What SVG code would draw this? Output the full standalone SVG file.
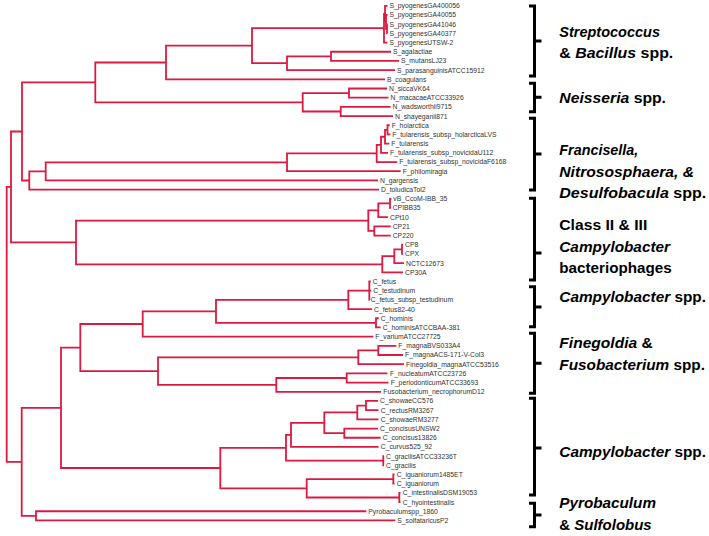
<svg xmlns="http://www.w3.org/2000/svg" width="709" height="536" viewBox="0 0 709 536">
<style>
.br{fill:none;stroke:#dc1a40;stroke-width:1.8;stroke-linejoin:miter}
.lf{font-family:"Liberation Sans",Arial,sans-serif;font-size:6.8px;fill:#333}
.lb{font-family:"Liberation Sans",Arial,sans-serif;font-size:15px;font-weight:bold;fill:#000}
.it{font-style:italic}
.bk{fill:none;stroke:#000;stroke-width:3}
</style>
<rect width="709" height="536" fill="#fff"/>
<g id="connectors">
<path class="br" d="M11 186.9H6.7V461.8H21.7"/>
<path class="br" d="M22 131.5H11V242.4H76"/>
<path class="br" d="M95.3 82.4H22V180.5H29.3"/>
<path class="br" d="M166 62.5H95.3V102.3H302.7"/>
<path class="br" d="M252 45.7H166V79.3H385"/>
<path class="br" d="M384 28.2H252V63.2H287"/>
<path class="br" d="M385 13.85H384V42.56H387.5"/>
<path class="br" d="M387.5 5.8H385V21.89H386"/>
<path class="br" d="M387.5 14.99H386V28.78H387"/>
<path class="br" d="M387.5 24.18H387V33.37H387.5"/>
<path class="br" d="M331 56.35H287V70.13H395"/>
<path class="br" d="M399 60.94H331V51.75H391"/>
<path class="br" d="M349 93.1H302.7V111.49H340.7"/>
<path class="br" d="M387 88.51H349V97.7H388.5"/>
<path class="br" d="M390.5 106.89H340.7V116.08H393"/>
<path class="br" d="M45.7 171.36H29.3V189.6H379"/>
<path class="br" d="M287 162.3H45.7V180.41H378"/>
<path class="br" d="M376.7 153.4H287V171.22H400.7"/>
<path class="br" d="M381 144.8H376.7V162.03H397.3"/>
<path class="br" d="M385 136.76H381V152.84H388"/>
<path class="br" d="M387.5 129.87H385V143.65H389.3"/>
<path class="br" d="M389.7 125.27H387.5V134.46H390.3"/>
<path class="br" d="M368.3 220.6H76V264.3H382.3"/>
<path class="br" d="M378.3 210.3H368.3V230.96H374.3"/>
<path class="br" d="M390 203.4H378.3V217.17H388"/>
<path class="br" d="M391.3 198.79H390V207.98H390.7"/>
<path class="br" d="M390.7 226.36H374.3V235.55H390.7"/>
<path class="br" d="M394.3 256.2H382.3V272.31H403"/>
<path class="br" d="M402 249.3H394.3V263.12H404"/>
<path class="br" d="M403 244.74H402V253.93H403"/>
<path class="br" d="M61 407.8H21.7V515.8H36"/>
<path class="br" d="M366.3 511.25H36V520.44H395.3"/>
<path class="br" d="M80.3 347.55H61V468H220.3"/>
<path class="br" d="M142.7 324H80.3V371.1H158"/>
<path class="br" d="M216 311.37H142.7V336.64H373.3"/>
<path class="br" d="M348.3 299.88H216V322.86H376"/>
<path class="br" d="M369.3 290.69H348.3V309.07H372"/>
<path class="br" d="M370.7 281.5H369.3V299.88H369.8M369.3 290.69H371.3"/>
<path class="br" d="M378.7 318.26H376V327.45H380.7"/>
<path class="br" d="M358.3 357.32H158V384.9H276.3"/>
<path class="br" d="M378.3 350.43H358.3V364.21H404"/>
<path class="br" d="M396.3 345.83H378.3V355.02H403"/>
<path class="br" d="M346.7 378H276.3V391.78H381"/>
<path class="br" d="M387.5 373.4H346.7V382.59H388.5"/>
<path class="br" d="M286 447.8H220.3V488.3H306.7"/>
<path class="br" d="M291 434.86H286V460.7H383.3"/>
<path class="br" d="M324.3 422.8H291V446.92H378.5"/>
<path class="br" d="M357.3 412.46H324.3V433.1H344.3"/>
<path class="br" d="M366 405.57H357.3V419.35H378.5"/>
<path class="br" d="M378 400.97H366V410.16H378.5"/>
<path class="br" d="M378 428.54H344.3V437.73H380.5"/>
<path class="br" d="M384 456.11H383.3V465.3H384"/>
<path class="br" d="M393.3 479.1H306.7V497.5H399.3"/>
<path class="br" d="M394.5 474.49H393.3V483.68H394.5"/>
<path class="br" d="M400.5 492.87H399.3V502.06H400.5"/>
</g>
<g id="leaves">
<g id="n1"><text class="lf" x="389.5" y="8.2">S_pyogenesGA400056</text></g>
<g id="n2"><text class="lf" x="389.5" y="17.4">S_pyogenesGA40055</text></g>
<g id="n3"><text class="lf" x="389.5" y="26.6">S_pyogenesGA41046</text></g>
<g id="n4"><text class="lf" x="389.5" y="35.8">S_pyogenesGA40377</text></g>
<g id="n5"><text class="lf" x="389.5" y="45">S_pyogenesUTSW-2</text></g>
<g id="n6"><text class="lf" x="393" y="54.2">S_agalactiae</text></g>
<g id="n7"><text class="lf" x="401" y="63.3">S_mutansLJ23</text></g>
<g id="n8"><text class="lf" x="397" y="72.5">S_parasanguinisATCC15912</text></g>
<g id="n9"><text class="lf" x="387" y="81.7">B_coagulans</text></g>
<g id="n10"><text class="lf" x="389" y="90.9">N_siccaVK64</text></g>
<g id="n11"><text class="lf" x="390.5" y="100.1">N_macacaeATCC33926</text></g>
<g id="n12"><text class="lf" x="392.5" y="109.3">N_wadsworthii9715</text></g>
<g id="n13"><text class="lf" x="395" y="118.5">N_shayeganii871</text></g>
<g id="n14"><text class="lf" x="391.7" y="127.7">F_holarctica</text></g>
<g id="n15"><text class="lf" x="392.3" y="136.9">F_tularensis_subsp_holarcticaLVS</text></g>
<g id="n16"><text class="lf" x="391.3" y="146">F_tularensis</text></g>
<g id="n17"><text class="lf" x="390" y="155.2">F_tularensis_subsp_novicidaU112</text></g>
<g id="n18"><text class="lf" x="399.3" y="164.4">F_tularensis_subsp_novicidaF6168</text></g>
<g id="n19"><text class="lf" x="402.7" y="173.6">F_philomiragia</text></g>
<g id="n20"><text class="lf" x="380" y="182.8">N_gargensis</text></g>
<g id="n21"><text class="lf" x="381" y="192">D_toludicaTol2</text></g>
<g id="n22"><text class="lf" x="393.3" y="201.2">vB_CcoM-IBB_35</text></g>
<g id="n23"><text class="lf" x="392.7" y="210.4">CPIBB35</text></g>
<g id="n24"><text class="lf" x="390" y="219.6">CPt10</text></g>
<g id="n25"><text class="lf" x="392.7" y="228.8">CP21</text></g>
<g id="n26"><text class="lf" x="392.7" y="238">CP220</text></g>
<g id="n27"><text class="lf" x="405" y="247.1">CP8</text></g>
<g id="n28"><text class="lf" x="405" y="256.3">CPX</text></g>
<g id="n29"><text class="lf" x="406" y="265.5">NCTC12673</text></g>
<g id="n30"><text class="lf" x="405" y="274.7">CP30A</text></g>
<g id="n31"><text class="lf" x="372.7" y="283.9">C_fetus</text></g>
<g id="n32"><text class="lf" x="373.3" y="293.1">C_testudinum</text></g>
<g id="n33"><text class="lf" x="370.7" y="302.3">C_fetus_subsp_testudinum</text></g>
<g id="n34"><text class="lf" x="374" y="311.5">C_fetus82-40</text></g>
<g id="n35"><text class="lf" x="380.7" y="320.7">C_hominis</text></g>
<g id="n36"><text class="lf" x="382.7" y="329.9">C_hominisATCCBAA-381</text></g>
<g id="n37"><text class="lf" x="375.3" y="339">F_variumATCC27725</text></g>
<g id="n38"><text class="lf" x="398.3" y="348.2">F_magnaBVS033A4</text></g>
<g id="n39"><text class="lf" x="405" y="357.4">F_magnaACS-171-V-Col3</text></g>
<g id="n40"><text class="lf" x="406" y="366.6">Finegoldia_magnaATCC53516</text></g>
<g id="n41"><text class="lf" x="390" y="375.8">F_nucleatumATCC23726</text></g>
<g id="n42"><text class="lf" x="390.7" y="385">F_periodonticumATCC33693</text></g>
<g id="n43"><text class="lf" x="383.3" y="394.2">Fusobacterium_necrophorumD12</text></g>
<g id="n44"><text class="lf" x="380" y="403.4">C_showaeCC576</text></g>
<g id="n45"><text class="lf" x="380.7" y="412.6">C_rectusRM3267</text></g>
<g id="n46"><text class="lf" x="380.7" y="421.8">C_showaeRM3277</text></g>
<g id="n47"><text class="lf" x="380" y="430.9">C_concisusUNSW2</text></g>
<g id="n48"><text class="lf" x="382.7" y="440.1">C_concisus13826</text></g>
<g id="n49"><text class="lf" x="380.7" y="449.3">C_curvus525_92</text></g>
<g id="n50"><text class="lf" x="386" y="458.5">C_gracilisATCC33236T</text></g>
<g id="n51"><text class="lf" x="386" y="467.7">C_gracilis</text></g>
<g id="n52"><text class="lf" x="396.7" y="476.9">C_iguaniorum1485ET</text></g>
<g id="n53"><text class="lf" x="396.7" y="486.1">C_iguaniorum</text></g>
<g id="n54"><text class="lf" x="402.7" y="495.3">C_intestinalisDSM19053</text></g>
<g id="n55"><text class="lf" x="402.7" y="504.5">C_hyointestinalis</text></g>
<g id="n56"><text class="lf" x="368.3" y="513.7">Pyrobaculumspp_1860</text></g>
<g id="n57"><text class="lf" x="397.3" y="522.8">S_solfataricusP2</text></g>
</g>
<g id="groups">
<g id="g1"><path class="bk" d="M529 6H534.5V76H529M534.5 41H541.5"/>
<text class="lb it" x="559.3" y="36.7" textLength="100.7" lengthAdjust="spacingAndGlyphs">Streptococcus</text>
<text class="lb" x="559.3" y="58.3" textLength="114" lengthAdjust="spacingAndGlyphs">&amp; <tspan class="it">Bacillus</tspan> spp.</text></g>
<g id="g2"><path class="bk" d="M529 83.3H534.5V111.7H529M534.5 97.3H541.5"/>
<text class="lb" x="559.3" y="102.5" textLength="106.7" lengthAdjust="spacingAndGlyphs"><tspan class="it">Neisseria</tspan> spp.</text></g>
<g id="g3"><path class="bk" d="M529 118.3H534.5V190H529M534.5 154H541.5"/>
<text class="lb it" x="559.3" y="155" textLength="79" lengthAdjust="spacingAndGlyphs">Francisella,</text>
<text class="lb it" x="559.3" y="176.7" textLength="134.7" lengthAdjust="spacingAndGlyphs">Nitrososphaera, &amp;</text>
<text class="lb" x="559.3" y="198.3" textLength="147" lengthAdjust="spacingAndGlyphs"><tspan class="it">Desulfobacula</tspan> spp.</text></g>
<g id="g4"><path class="bk" d="M529 198.3H534.5V280H529M534.5 253H541.5"/>
<text class="lb" x="559.3" y="230" textLength="88" lengthAdjust="spacingAndGlyphs">Class II &amp; III</text>
<text class="lb it" x="559.3" y="251.7" textLength="110.7" lengthAdjust="spacingAndGlyphs">Campylobacter</text>
<text class="lb" x="559.3" y="273.4" textLength="112.4" lengthAdjust="spacingAndGlyphs">bacteriophages</text></g>
<g id="g5"><path class="bk" d="M529 286.7H534.5V326.7H529M534.5 307H541.5"/>
<text class="lb" x="559.3" y="301.7" textLength="146.7" lengthAdjust="spacingAndGlyphs"><tspan class="it">Campylobacter</tspan> spp.</text></g>
<g id="g6"><path class="bk" d="M529 333.3H534.5V393.3H529M534.5 363.3H541.5"/>
<text class="lb" x="559.3" y="348.3" textLength="93.4" lengthAdjust="spacingAndGlyphs"><tspan class="it">Finegoldia</tspan> &amp;</text>
<text class="lb" x="559.3" y="370" textLength="145.7" lengthAdjust="spacingAndGlyphs"><tspan class="it">Fusobacterium</tspan> spp.</text></g>
<g id="g7"><path class="bk" d="M529 398.3H534.5V495H529M534.5 448H541.5"/>
<text class="lb" x="559.3" y="456.7" textLength="146.7" lengthAdjust="spacingAndGlyphs"><tspan class="it">Campylobacter</tspan> spp.</text></g>
<g id="g8"><path class="bk" d="M529 503.3H534.5V526.7H529M534.5 515H541.5"/>
<text class="lb it" x="559.3" y="508.3" textLength="96.7" lengthAdjust="spacingAndGlyphs">Pyrobaculum</text>
<text class="lb" x="559.3" y="530" textLength="92.4" lengthAdjust="spacingAndGlyphs">&amp; <tspan class="it">Sulfolobus</tspan></text></g>
</g>
</svg>
